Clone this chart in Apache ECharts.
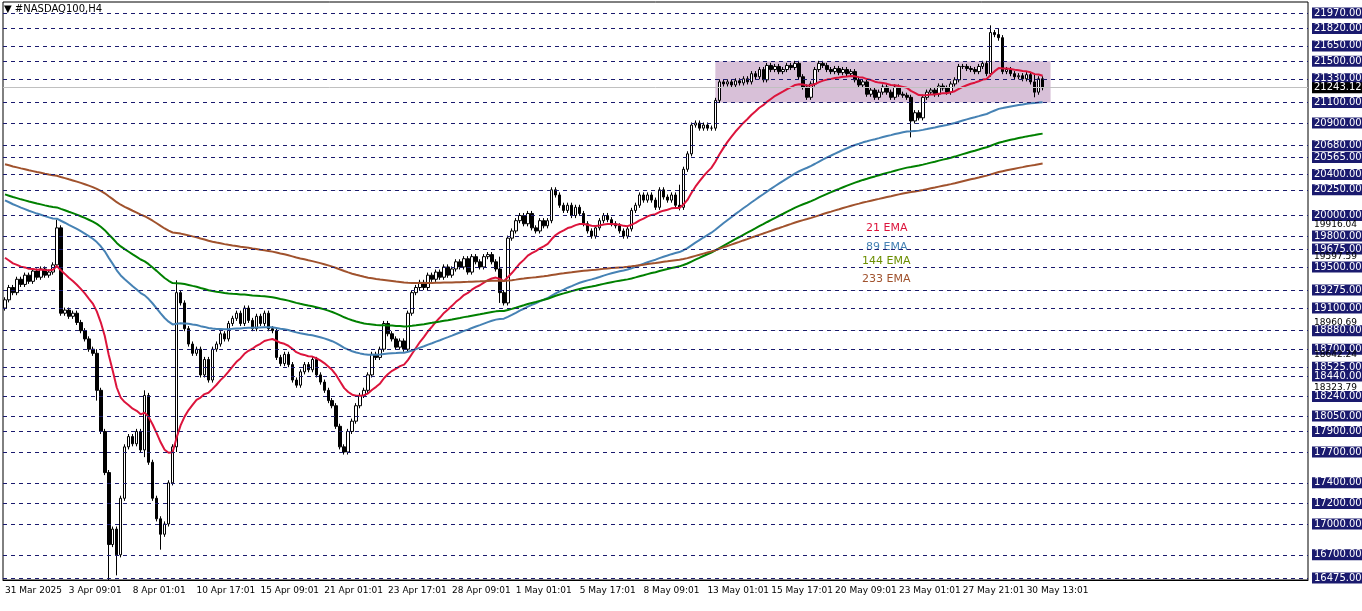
<!DOCTYPE html>
<html><head><meta charset="utf-8">
<script src="https://cdn.jsdelivr.net/npm/echarts@6/dist/echarts.min.js"></script>
<style>html,body{margin:0;padding:0;background:#fff}#c{width:1362px;height:611px}</style>
</head><body><div id="c"></div>
<script>
const closes = [19180,19300,19250,19380,19330,19420,19360,19460,19400,19480,19420,19450,19520,
19880,19050,19080,19020,19050,18960,18880,18800,18700,18660,18300,17900,17500,
16800,16950,16700,17250,17750,17850,17780,17900,17720,18250,17600,17250,17050,16900,17000,
17400,17750,19250,19150,18900,18750,18660,18700,18450,18600,18400,18700,18750,18850,18800,18950,
19000,19050,18950,19100,18980,18900,19020,18950,19050,18900,18880,18620,18560,18650,18550,
18400,18350,18480,18550,18500,18600,18450,18380,18300,18200,18150,17950,17750,17700,
17900,18000,18150,18250,18300,18450,18650,18620,18700,18950,18850,18800,18720,18780,18700,
19050,19250,19300,19350,19300,19420,19380,19450,19400,19500,19420,19480,19550,19500,19580,19450,19600,
19550,19500,19600,19620,19550,19480,19250,19150,19780,19850,19950,20000,19920,20020,19880,19850,
19950,19900,19950,20250,20200,20100,20050,20100,20000,20080,20020,19920,19850,19800,19880,
19950,20000,19960,19920,19900,19850,19800,19870,20050,20100,20200,20150,20200,20150,20080,20250,
20180,20150,20200,20100,20080,20450,20600,20880,20900,20850,20880,20850,20850,21120,21300,
21280,21300,21270,21310,21290,21330,21300,21380,21350,21420,21320,21460,21420,21450,21400,
21420,21460,21440,21480,21350,21250,21150,21280,21420,21480,21460,21420,21400,21430,21390,21420,21380,
21400,21320,21270,21300,21180,21220,21150,21200,21250,21200,21150,21250,21180,21170,21150,20920,
21000,20950,21150,21200,21220,21180,21260,21240,21200,21280,21320,21450,21450,21430,21420,
21400,21450,21480,21380,21780,21760,21730,21400,21420,21380,21350,21360,21330,21370,21300,21200,21330,21243.12];
const firstOpen = 19100;
// notable wick extremes [barIndex, high, low]
const wickExtremes = [[13,19960,19500],[23,18700,18200],[26,17050,16450],[28,16950,16500],[35,18300,17650],[39,17000,16750],[43,19370,17700],[124,19600,19150],[169,20300,20050],[227,21160,20760],[247,21850,21350],[249,21820,21700],[258,21380,21150]];
const tickLabels = ['31 Mar 2025','3 Apr 09:01','8 Apr 01:01','10 Apr 17:01','15 Apr 09:01','21 Apr 01:01','23 Apr 17:01','28 Apr 09:01','1 May 01:01','5 May 17:01','8 May 09:01','13 May 01:01','15 May 17:01','20 May 09:01','23 May 01:01','27 May 21:01','30 May 13:01'];
const levels = [21970,21820,21650,21500,21330,21100,20900,20680,20565,20400,20250,20000,19800,19675,19500,19275,19100,18880,18700,18525,18440,18240,18050,17900,17700,17400,17200,17000,16700,16475];
const minorLabels = [19916.04,19597.59,18960.69,18642.24,18323.79,16403.44];
const emaPeriods = [21,89,144,233];
const emaSeeds = [19630,20170,20220,20510];
const emaNames = ['21 EMA','89 EMA','144 EMA','233 EMA'];
const emaColors = ['#DC143C','#4682B4','#008000','#A0522D'];
const rangeBox = {fromBar:178, toBar:262, top:21500, bottom:21100};
const lastPrice = 21243.12;

const N = closes.length, TOTAL = 327;
const cats = Array.from({length:TOTAL},(_, i)=>i);
const ohlc = closes.map((c,i)=>{const o=i?closes[i-1]:firstOpen;return [o,c,Math.min(o,c)-25,Math.max(o,c)+25];});
wickExtremes.forEach(([i,h,l])=>{ohlc[i][3]=Math.max(ohlc[i][3],h);ohlc[i][2]=Math.min(ohlc[i][2],l);});
const emas = emaPeriods.map((p,k)=>{const a=2/(p+1);let e=emaSeeds[k];return closes.map(c=>{e=e+a*(c-e);return +e.toFixed(2);});});

const chart = echarts.init(document.getElementById('c'));
const lbl = {fontSize:10,fontFamily:'DejaVu Sans',padding:[1,2,0,2],distance:4,position:'end',show:true};
const series = [{
  type:'candlestick', data:ohlc, barWidth:3,
  itemStyle:{color:'#fff',color0:'#000',borderColor:'#000',borderColor0:'#000',borderWidth:1},
  markArea:{silent:true,itemStyle:{color:'rgba(190,150,190,0.6)'},data:[[{xAxis:rangeBox.fromBar,yAxis:rangeBox.top},{xAxis:rangeBox.toBar,yAxis:rangeBox.bottom}]]},
  markLine:{silent:true,symbol:'none',animation:false,
    data:levels.map(v=>({yAxis:v,lineStyle:{color:'#1a1a6e',type:[4,4],width:1},
      label:Object.assign({},lbl,{formatter:v.toFixed(2),color:'#fff',backgroundColor:'#1a1a6e'})}))
      .concat(minorLabels.map(v=>({yAxis:v,lineStyle:{color:'#fff',width:0.01},label:Object.assign({},lbl,{formatter:v.toFixed(2),color:'#000',fontSize:9})})))
      .concat([{yAxis:lastPrice,lineStyle:{color:'#c0c0c0',type:'solid',width:1},label:Object.assign({},lbl,{formatter:lastPrice.toFixed(2),color:'#fff',backgroundColor:'#000'})}])
  }
}].concat(emas.map((d,k)=>({type:'line',data:d,name:emaNames[k],showSymbol:false,lineStyle:{color:emaColors[k],width:2},z:3})));

chart.setOption({
  animation:false,
  grid:{left:3,right:54,top:2,bottom:31,show:true,borderColor:'#000',borderWidth:1},
  xAxis:{type:'category',data:cats,boundaryGap:true,
    axisLine:{lineStyle:{color:'#000'}},
    axisTick:{alignWithLabel:true,interval:(i)=>i%16===0&&i<=256,lineStyle:{color:'#000'},length:3},
    axisLabel:{interval:(i)=>i%16===0&&i<=256,hideOverlap:false,formatter:(v,i)=>tickLabels[i/16]||'',align:'left',color:'#000',fontSize:9,fontFamily:'DejaVu Sans',margin:6}},
  yAxis:{type:'value',min:16455,max:22077,show:false,splitLine:{show:false}},
  series,
  graphic:[
    {type:'text',left:4,top:4,style:{text:'▼ #NASDAQ100,H4',fontSize:10,fontFamily:'DejaVu Sans',fill:'#000'}},
    ...emaNames.map((n,k)=>({type:'text',left:[866,866,862,862][k],top:[223,242,256,274][k],style:{text:n,fontSize:11,fontFamily:'DejaVu Sans',fill:k===2?'#6b8e00':emaColors[k]}}))
  ]
});
</script></body></html>
